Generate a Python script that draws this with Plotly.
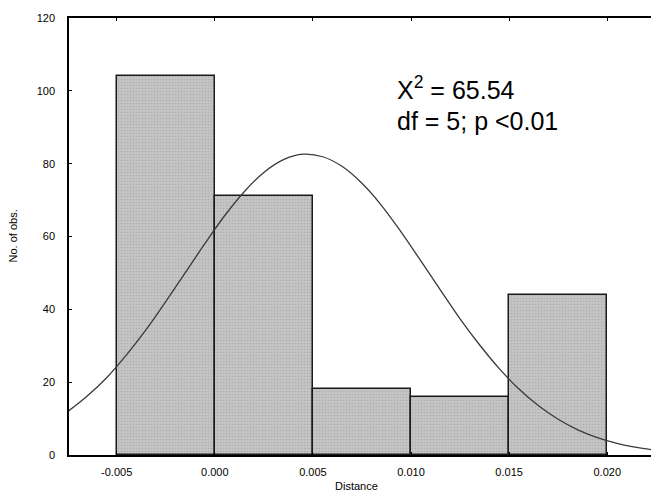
import plotly.graph_objects as go

# ---- data ----
bin_left = [-0.005, 0.000, 0.005, 0.010, 0.015]
bin_width = 0.005
counts = [104, 71, 18, 16, 44]

curve_x = [-0.0075, -0.0065, -0.0055, -0.0045, -0.0035, -0.0025, -0.0015, -0.0005,
           0.0005, 0.0015, 0.0025, 0.0035, 0.0045, 0.0055, 0.0065, 0.0075, 0.0085,
           0.0095, 0.0105, 0.0115, 0.0125, 0.0135, 0.0145, 0.0155, 0.0165, 0.0175,
           0.0185, 0.0195, 0.0205, 0.0215, 0.0225]
curve_y = [11.9, 16.2, 21.3, 27.5, 34.4, 42.1, 50.1, 58.1,
           65.7, 72.3, 77.6, 81.1, 82.6, 81.9, 79.2, 74.6, 68.5,
           61.2, 53.3, 45.3, 37.4, 30.2, 23.7, 18.1, 13.5, 9.8,
           6.9, 4.8, 3.2, 2.1, 1.3]

x_tickvals = [-0.005, 0.000, 0.005, 0.010, 0.015, 0.020]
x_ticktext = ["-0.005", "0.000", "0.005", "0.010", "0.015", "0.020"]
y_tickvals = [0, 20, 40, 60, 80, 100, 120]

FONT = "Liberation Sans, Arial, sans-serif"

fig = go.Figure()
fig.add_trace(go.Bar(
    x=bin_left, y=counts, width=[bin_width] * len(counts), offset=0,
    marker=dict(color="#c2c2c2",
                line=dict(color="#1a1a1a", width=1.5),
                pattern=dict(shape=".", fgcolor="#9a9a9a", bgcolor="#c4c4c4",
                             size=3, solidity=0.25)),
    showlegend=False,
))
fig.add_trace(go.Scatter(
    x=curve_x, y=curve_y, mode="lines",
    line=dict(color="#3a3a3a", width=1.3, shape="spline"),
    showlegend=False, cliponaxis=True,
))

fig.update_layout(
    width=651, height=502,
    margin=dict(l=69, r=0, t=18, b=47, autoexpand=False),
    paper_bgcolor="white", plot_bgcolor="white",
    bargap=0,
    font=dict(family=FONT, size=11, color="black"),
    xaxis=dict(range=[-0.00743, 0.02223], tickvals=x_tickvals, ticktext=x_ticktext,
               ticks="inside", ticklen=3, tickcolor="black", automargin=False,
               showline=True, linecolor="black", linewidth=1.5, mirror="ticks",
               showgrid=False, zeroline=False, ticklabelstandoff=6,
               tickfont=dict(size=11)),
    yaxis=dict(range=[0, 120], tickvals=y_tickvals, automargin=False,
               ticks="inside", ticklen=3, tickcolor="black",
               showline=True, linecolor="black", linewidth=1.5,
               showgrid=False, zeroline=False, ticklabelstandoff=10,
               tickfont=dict(size=11)),
    annotations=[
        dict(text="No. of obs.", xref="paper", yref="paper", x=0, y=0.5,
             xshift=-57, textangle=-90, showarrow=False, font=dict(size=11),
             xanchor="center", yanchor="middle"),
        dict(text="Distance", xref="paper", yref="paper", x=0.5, y=0,
             xshift=-4, yshift=-31, showarrow=False, font=dict(size=11),
             xanchor="center", yanchor="middle"),
        dict(text="X<sup>2</sup> = 65.54", xref="paper", yref="y", x=0.5605, y=100.8,
             xanchor="left", yanchor="middle", showarrow=False, align="left",
             font=dict(size=25)),
        dict(text="df = 5; p <0.01", xref="paper", yref="y", x=0.5605, y=91.7,
             xanchor="left", yanchor="middle", showarrow=False, align="left",
             font=dict(size=25)),
    ],
)

fig.write_html("out.html",
               config={"displayModeBar": False},
               post_script="document.body.style.margin='0';"
                           "document.body.style.overflow='hidden';")
